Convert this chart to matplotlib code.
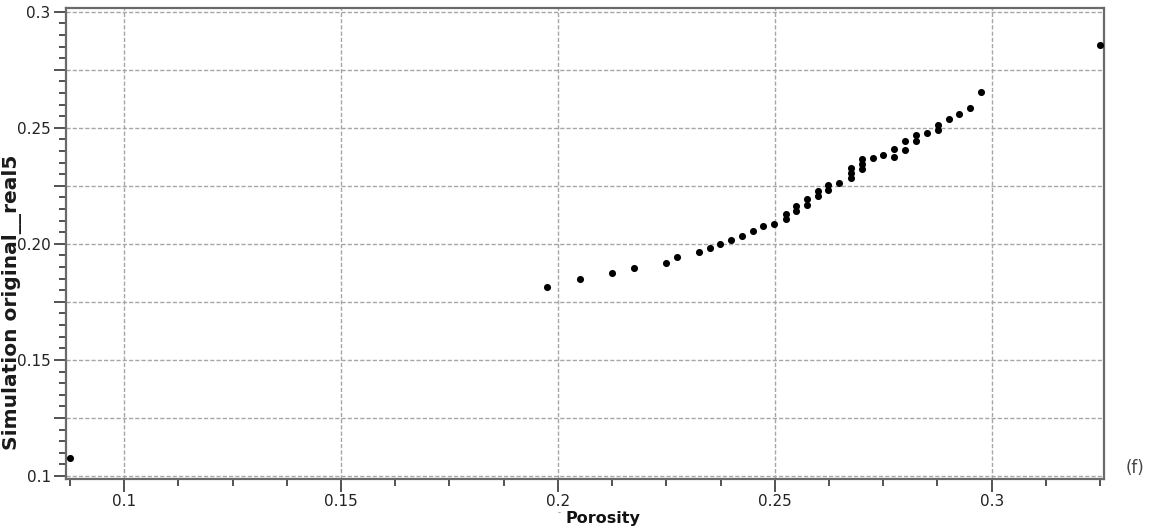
import numpy as np
import matplotlib
matplotlib.use('Agg')
import matplotlib.pyplot as plt
from matplotlib.ticker import MultipleLocator, FixedLocator

# Porosity vs simulated value for realisation 5
porosity = [0.0876, 0.1975, 0.2050, 0.2125, 0.2176, 0.2250, 0.2274, 0.2325,
            0.2350, 0.2374, 0.2399, 0.2424, 0.2450, 0.2474, 0.2499,
            0.2525, 0.2525, 0.2550, 0.2550, 0.2574, 0.2574, 0.2599, 0.2599,
            0.2623, 0.2623, 0.2648, 0.2676, 0.2676, 0.2676, 0.2700, 0.2700,
            0.2700, 0.2726, 0.2750, 0.2775, 0.2775, 0.2801, 0.2801, 0.2825,
            0.2825, 0.2851, 0.2876, 0.2876, 0.2901, 0.2925, 0.2950, 0.2975,
            0.3250]
simulated = [0.1078, 0.1814, 0.1850, 0.1874, 0.1897, 0.1916, 0.1943, 0.1963,
             0.1982, 0.2000, 0.2015, 0.2032, 0.2055, 0.2077, 0.2085,
             0.2106, 0.2127, 0.2143, 0.2164, 0.2169, 0.2191, 0.2208, 0.2227,
             0.2232, 0.2253, 0.2262, 0.2283, 0.2305, 0.2326, 0.2322, 0.2344,
             0.2365, 0.2368, 0.2384, 0.2376, 0.2410, 0.2406, 0.2443, 0.2443,
             0.2469, 0.2476, 0.2490, 0.2514, 0.2536, 0.2558, 0.2586, 0.2652,
             0.2856]

x_ticks = [0.1, 0.15, 0.2, 0.25, 0.3]
x_tick_labels = ['0.1', '0.15', '0.2', '0.25', '0.3']
y_ticks = [0.1, 0.125, 0.15, 0.175, 0.2, 0.225, 0.25, 0.275, 0.3]
y_tick_labels = ['0.1', '', '0.15', '', '0.20', '', '0.25', '', '0.3']

fig = plt.figure(figsize=(11.53, 5.32), dpi=100)
ax = fig.add_axes([0.0572, 0.0996, 0.9003, 0.8863])

ax.scatter(porosity, simulated, s=26, color='black', zorder=3, linewidths=0)

ax.set_xlim(0.0866, 0.3259)
ax.set_ylim(0.0987, 0.3018)

grid_kw = dict(color='#a6a6a6', linewidth=1.0, linestyle=(0, (3.0, 1.5)), zorder=1)
for xv in x_ticks:
    ax.axvline(xv, **grid_kw)
for yv in y_ticks:
    ax.axhline(yv, **grid_kw)

# x: labelled majors every 0.05, minors every 0.0125
ax.xaxis.set_major_locator(FixedLocator(x_ticks))
ax.set_xticklabels(x_tick_labels)
ax.xaxis.set_minor_locator(MultipleLocator(0.0125))
# y: long ticks every 0.025 (labels only at 0.05), minors every 0.005
ax.yaxis.set_major_locator(FixedLocator(y_ticks))
ax.set_yticklabels(y_tick_labels)
ax.yaxis.set_minor_locator(MultipleLocator(0.005))

ax.tick_params(which='major', direction='out', length=9, width=1.3,
               color='#444444', labelsize=11, labelcolor='#222222', pad=2)
ax.tick_params(which='minor', direction='out', length=5, width=1.3, color='#444444')

for side in ['left', 'bottom', 'right', 'top']:
    ax.spines[side].set_color('#6a6a6a')
    ax.spines[side].set_linewidth(1.6)

fig.text(0.0105, 0.432, 'Simulation original__real5', rotation=90,
         ha='center', va='center', fontsize=14.5, fontweight='bold', color='#1a1a1a')
fig.text(0.523, 0.025, 'Porosity', ha='center', va='center',
         fontsize=11.5, fontweight='bold', color='#111111')
fig.text(0.485, 0.037, '-', ha='center', va='center', fontsize=6, color='#888888')
fig.text(0.9845, 0.12, '(f)', ha='center', va='center', fontsize=12, color='#444444')

fig.savefig('out.png', dpi=100)
